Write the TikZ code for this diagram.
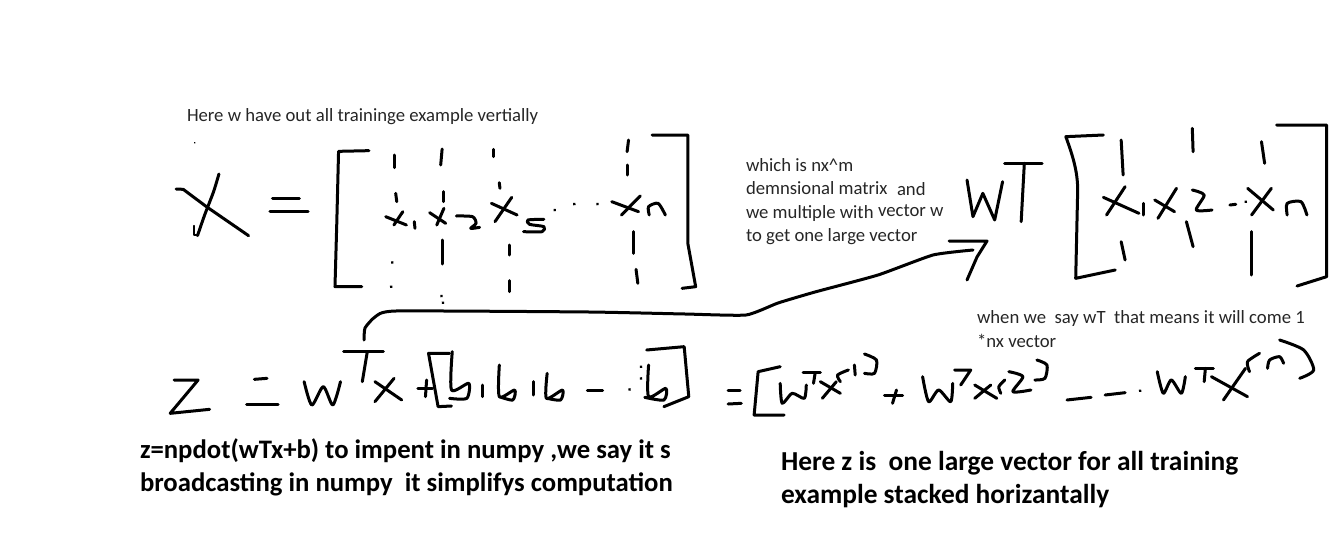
\documentclass[tikz,border=0pt]{standalone}
\usepackage{fontspec}
\setmainfont{Carlito}
\newcommand\ink[1]{\draw[inkstroke] plot[smooth,tension=0.45] coordinates {#1};}
\newcommand\inkl[1]{\draw[inkstroke] plot coordinates {#1};}
\newcommand\inkdot[1]{\draw[inkstroke] #1 -- ++(0.5,0.5);}
\tikzset{
  inkstroke/.style={line width=3pt,line cap=round,line join=round,black},
  thininkstroke/.style={line width=1.4pt,line cap=round,line join=round,black},
  note/.style={anchor=base west,inner sep=0pt,outer sep=0pt,font=\fontsize{18.7}{22}\selectfont,text=black!85},
  boldnote/.style={anchor=base west,inner sep=0pt,outer sep=0pt,font=\fontsize{26.7}{30}\selectfont\bfseries,text=black},
  boldnoteb/.style={boldnote,font=\fontsize{27.4}{30}\selectfont\bfseries},
}
\begin{document}
\begin{tikzpicture}[x=1pt,y=-1pt]
\useasboundingbox[fill=white] (0,0) rectangle (1339,554);
% notes
\node[note] (n1) at (187,121) {Here w have out all traininge example vertially};
\node[note] (n2a) at (746,171) {which is nx\textasciicircum m};
\node[note] (n2b) at (746,194) {demnsional matrix};
\node[note] (n2c) at (897,195) {and};
\node[note] (n2d) at (746,218) {we multiple with};
\node[note] (n2e) at (878,216) {vector w};
\node[note] (n2f) at (746,241) {to get one large vector};
\node[note] (n3a) at (977,323) {when we\ \ say wT\ \ that means it will come 1};
\node[note] (n3b) at (977,347) {*nx vector};
\node[boldnote] (b1) at (140,458) {z=npdot(wTx+b) to impent in numpy ,we say it s};
\node[boldnote] (b2) at (140,491) {broadcasting in numpy\ \ it simplifys computation};
\node[boldnoteb] (b3) at (781,470) {Here z is\ \ one large vector for all training};
\node[boldnoteb] (b4) at (781,503) {example stacked horizantally};
% X = [ ... ]
\begin{scope}[shift={(160,90)},xscale=1/2.8,yscale=1/3]
\inkl{(45,297)(65,298)(130,350)(248,437)}
\ink{(165,252)(150,305)(125,375)(105,437)}
\draw[thininkstroke] (95,407) -- (95,435) -- (105,435);
\draw[thininkstroke] (97,158) -- ++(0.5,0.5);
\inkl{(315,325)(390,325)}
\inkl{(308,363)(415,363)}
\inkl{(585,182)(500,184)(495,400)(490,590)(565,590)}
\inkl{(658,195)(658,233)}
\inkl{(660,310)(663,335)}
\inkl{(632,380)(690,405)}
\inkl{(680,365)(655,405)}
\inkl{(712,395)(714,415)}
\inkdot{(650,517)}
\inkdot{(647,590)}
\inkl{(790,177)(786,225)}
\inkl{(793,305)(793,335)}
\inkl{(755,368)(800,400)}
\inkl{(795,355)(775,405)}
\ink{(830,378)(875,380)(885,400)(870,415)(895,412)}
\inkl{(790,450)(790,522)}
\inkdot{(788,618)}
\inkdot{(792,638)}
\inkl{(935,178)(935,200)}
\inkl{(950,278)(952,295)}
\inkl{(928,340)(1000,375)}
\inkl{(985,322)(938,395)}
\ink{(1075,388)(1030,390)(1035,403)(1075,410)(1070,425)(1018,425)}
\inkl{(978,465)(978,495)}
\inkl{(980,572)(980,605)}
\inkdot{(1105,360)}
\inkdot{(1160,342)}
\inkdot{(1225,342)}
\inkl{(1312,150)(1308,185)}
\inkl{(1310,225)(1310,255)}
\inkl{(1265,335)(1340,365)}
\inkl{(1345,318)(1292,375)}
\ink{(1370,375)(1368,350)(1395,340)(1415,375)}
\inkl{(1327,425)(1327,490)}
\inkl{(1333,538)(1338,580)}
\inkl{(1378,135)(1478,135)(1478,460)(1500,590)(1462,595)}
\end{scope}
% wT [ ... ]
\begin{scope}[shift={(720,110)},xscale=1/2.53,yscale=1/3]
\inkl{(625,210)(640,320)(665,250)(695,330)(715,215)}
\inkl{(720,160)(815,160)}
\inkl{(770,160)(762,335)}
\draw[inkstroke] (970,75) -- (875,80) .. controls (890,130) and (905,180) .. (905,240) -- (900,505) -- (1000,480);
\inkl{(1015,90)(1020,195)}
\inkl{(970,262)(1060,310)}
\inkl{(1025,230)(978,315)}
\inkl{(1072,280)(1072,315)}
\inkl{(1100,270)(1150,305)}
\inkl{(1155,235)(1108,325)}
\ink{(1195,240)(1225,255)(1205,300)(1245,300)}
\inkl{(1195,55)(1197,125)}
\inkl{(1290,285)(1305,283)}
\inkdot{(1330,275)}
\inkl{(1335,235)(1400,300)}
\inkl{(1395,235)(1345,315)}
\ink{(1435,315)(1435,280)(1470,275)(1485,315)}
\inkl{(1370,95)(1378,160)}
\inkl{(1345,365)(1345,495)}
\inkl{(1015,395)(1025,450)}
\inkl{(1180,335)(1197,410)}
\inkl{(1408,45)(1535,45)(1535,500)(1460,528)}
\end{scope}
% z = w^T x + [b,b,b...b]
\begin{scope}[shift={(130,300)},xscale=1/2.613,yscale=1/3]
\inkl{(115,240)(178,240)(105,340)(208,328)}
\inkl{(325,238)(358,235)}
\inkl{(305,313)(387,313)}
\ink{(455,245)(475,315)(505,260)(530,315)(550,245)}
\inkl{(558,155)(662,155)}
\inkl{(620,155)(607,245)}
\inkl{(640,245)(710,300)}
\inkl{(690,235)(640,305)}
\inkl{(752,265)(790,265)}
\inkl{(775,240)(772,290)}
\inkl{(835,160)(780,160)(805,320)(840,318)}
\ink{(842,155)(840,270)(885,250)(880,295)(835,295)}
\inkl{(920,255)(920,290)}
\ink{(965,195)(965,290)(1005,270)(1000,300)(965,290)}
\inkl{(1055,245)(1055,285)}
\ink{(1090,220)(1088,295)(1130,270)(1125,300)(1090,295)}
\inkl{(1195,270)(1235,270)}
\inkdot{(1305,268)}
\inkdot{(1335,200)}
\inkdot{(1335,235)}
\ink{(1355,195)(1355,290)(1400,265)(1395,300)(1345,292)}
\inkl{(1350,150)(1448,140)(1460,290)(1395,320)}
\end{scope}
% = [ w^T x^(1) + ... ]
\begin{scope}[shift={(710,340)},xscale=1/2.493,yscale=1/3]
\inkl{(45,150)(75,150)}
\inkl{(45,192)(78,190)}
\inkl{(175,80)(120,95)(110,225)(185,225)}
\ink{(175,130)(180,190)(205,160)(235,175)(240,135)}
\inkl{(232,98)(275,98)}
\inkl{(262,100)(258,130)}
\inkl{(275,125)(325,160)}
\inkl{(315,125)(280,175)}
\ink{(345,90)(318,105)(325,125)}
\inkl{(360,75)(362,105)}
\ink{(385,42)(415,60)(410,100)(385,100)}
\inkl{(435,165)(480,165)}
\inkl{(465,150)(455,190)}
\ink{(530,110)(545,185)(570,150)(600,185)(605,130)}
\inkl{(610,90)(650,90)(625,135)}
\inkl{(660,135)(715,175)}
\inkl{(700,135)(660,175)}
\ink{(735,120)(720,140)(725,160)}
\ink{(745,95)(780,110)(755,155)(800,150)}
\ink{(815,60)(840,75)(835,115)(810,120)}
\inkl{(890,180)(950,172)}
\inkl{(985,165)(1035,158)}
\inkdot{(1072,152)}
\ink{(1115,95)(1130,160)(1150,120)(1175,160)(1185,110)}
\inkl{(1210,85)(1255,85)}
\inkl{(1235,85)(1232,125)}
\inkl{(1250,110)(1340,170)}
\inkl{(1335,85)(1280,180)}
\ink{(1370,40)(1340,65)(1345,95)}
\ink{(1390,85)(1395,60)(1420,50)(1430,70)}
\ink{(1420,0)(1480,30)(1505,90)(1470,115)}
\end{scope}
% long arrow
\coordinate (arrowstart) at (364,340);
\coordinate (arrowend) at (973,250);
\coordinate (headtop) at (949,241);
\coordinate (headtip) at (987,241);
\coordinate (headbot) at (967,280);
\draw[inkstroke] plot[smooth,tension=0.3] coordinates {(arrowstart) (365,328) (375,317) (396,311) (589,312) (685,314) (746,315) (778,303) (815,292) (878,275) (933,255) (arrowend)};
\draw[inkstroke] (headtop) -- (headtip) -- (977,257) -- (headbot);
\end{tikzpicture}
\end{document}
